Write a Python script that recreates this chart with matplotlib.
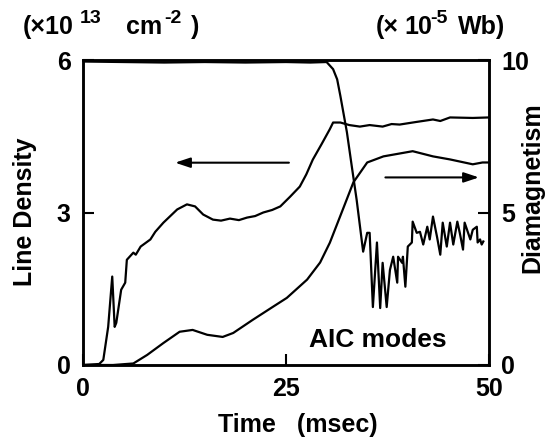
import matplotlib
matplotlib.use('Agg')
import matplotlib.pyplot as plt

plt.rcParams['font.family'] = ['Liberation Sans', 'DejaVu Sans']
plt.rcParams['font.weight'] = 'bold'

# line density (left axis, x10^13 cm^-2)
ld_t = [0, 2.0, 2.5, 3.1, 3.6, 3.9, 4.1, 4.7, 5.2, 5.4,
        6.2, 6.5, 7.1, 8.3, 8.9, 9.9, 11.6, 12.8, 13.8, 14.8,
        16.0, 17.0, 18.1, 19.2, 20.2, 21.2, 22.2, 23.3, 24.3, 25.5,
        26.7, 27.5, 28.3, 29.4, 30.4, 30.8, 31.7, 32.8, 34.1, 35.3,
        36.9, 38.0, 39.0, 41.0, 43.1, 44.0, 45.2, 48.0, 50]
ld_v = [0, 0.02, 0.1, 0.75, 1.74, 0.75, 0.83, 1.48, 1.62, 2.07,
        2.21, 2.17, 2.33, 2.47, 2.62, 2.80, 3.06, 3.16, 3.12, 2.96,
        2.86, 2.84, 2.88, 2.85, 2.90, 2.93, 3.00, 3.05, 3.12, 3.31,
        3.51, 3.75, 4.04, 4.35, 4.64, 4.77, 4.77, 4.72, 4.69, 4.72,
        4.69, 4.74, 4.73, 4.78, 4.83, 4.80, 4.87, 4.86, 4.87]

# diamagnetism (right axis, x10^-5 Wb)
dm_t = [0, 3.7, 6.2, 7.9, 9.9, 11.9, 13.5, 15.3, 17.2, 18.5,
        20.9, 23.4, 25.1, 27.6, 29.2, 30.4, 32.0, 33.3, 35.0, 37.0,
        40.6, 43.1, 45.2, 48.0, 49.2, 50]
dm_v = [0, 0, 0.05, 0.33, 0.72, 1.09, 1.15, 0.99, 0.92, 1.05,
        1.48, 1.91, 2.20, 2.80, 3.36, 4.01, 5.10, 5.99, 6.64, 6.84,
        7.01, 6.84, 6.74, 6.58, 6.64, 6.64]

# AIC mode signal (drawn in left axis units)
aic_t = [0, 5, 10, 15, 20, 25, 28, 30.0,
         30.8, 31.3, 31.7, 32.5, 33.1, 33.7, 34.5,
         35.0, 35.3, 35.7, 36.2, 36.6, 36.9, 37.4, 37.8, 38.2, 38.7,
         38.8, 39.3, 39.4, 39.7, 40.0, 40.5, 40.6, 41.1, 41.5, 41.9,
         42.4, 42.7, 43.1, 43.6, 44.0, 44.3, 44.8, 45.2, 45.6, 46.1,
         46.4, 46.8, 47.0, 47.7, 48.0, 48.5, 48.6, 48.9, 49.1, 49.3]
aic_v = [5.97, 5.96, 5.95, 5.96, 5.95, 5.96, 5.95, 5.96,
         5.82, 5.62, 5.29, 4.58, 3.91, 3.25, 2.23,
         2.60, 2.60, 1.14, 2.41, 1.12, 2.01, 1.14, 1.87, 2.13, 1.62,
         2.13, 2.01, 2.13, 1.54, 2.33, 2.41, 2.82, 2.60, 2.62, 2.37,
         2.72, 2.47, 2.92, 2.52, 2.17, 2.80, 2.33, 2.80, 2.37, 2.82,
         2.60, 2.27, 2.80, 2.47, 2.66, 2.72, 2.41, 2.47, 2.37, 2.43]

# unit labels above the axes: (text, left x px, baseline y px, size)
unit_parts = [('(×10', 23, 34, 18), ('13', 80, 23, 14), ('cm', 126, 34, 18),
              ('-2', 164, 23, 14), (')', 191, 34, 18),
              ('(×', 376, 34, 18), ('10', 404, 34, 18), ('-5', 430, 23, 14),
              ('Wb)', 458, 34, 18)]

W, H = 558, 443
fig = plt.figure(figsize=(W / 100, H / 100), dpi=100)
ax = fig.add_axes([83 / W, 78 / H, 406 / W, 305 / H])
ax2 = ax.twinx()

ax.plot(ld_t, ld_v, color='black', lw=1.6)
ax.plot(aic_t, aic_v, color='black', lw=1.6)
ax2.plot(dm_t, dm_v, color='black', lw=1.6)

ax.set_xlim(0, 50)
ax.set_ylim(0, 6)
ax2.set_ylim(0, 10)
ax.set_xticks([0, 25, 50])
ax.set_yticks([0, 3, 6])
ax2.set_yticks([0, 5, 10])

for a in (ax, ax2):
    for s in a.spines.values():
        s.set_linewidth(1.8)
    a.tick_params(direction='in', length=8, width=1.5, labelsize=18, pad=9)

ax.annotate('', xy=(11.0, 3.98), xytext=(25.7, 3.98),
            arrowprops=dict(arrowstyle='-|>,head_length=0.9,head_width=0.3', color='black', lw=1.5))
ax.annotate('', xy=(49.1, 3.69), xytext=(36.9, 3.69),
            arrowprops=dict(arrowstyle='-|>,head_length=0.9,head_width=0.3', color='black', lw=1.5))

ax.text(36.3, 0.49, 'AIC modes', fontsize=19, fontweight='bold', ha='center', va='center')

fig.text(25 / W, 1 - 212 / H, 'Line Density', rotation=90, fontsize=18, fontweight='bold',
         ha='center', va='center')
fig.text(532 / W, 1 - 188 / H, 'Diamagnetism', rotation=90, fontsize=18, fontweight='bold',
         ha='center', va='center')
fig.text(298 / W, 1 - 425 / H, 'Time   (msec)', fontsize=18, fontweight='bold',
         ha='center', va='center')
for txt, xp, yp, fs in unit_parts:
    fig.text(xp / W, 1 - yp / H, txt, fontsize=fs, fontweight='bold', ha='left', va='baseline')

fig.savefig('out.png', dpi=100)
